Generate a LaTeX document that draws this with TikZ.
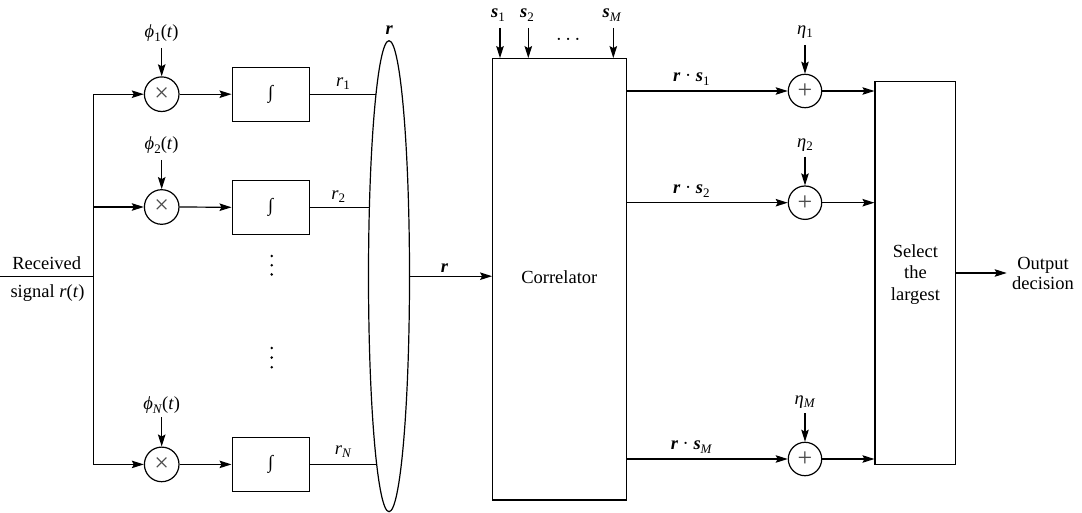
\documentclass[tikz,border=0pt]{standalone}
\usepackage{fontspec}
\setmainfont{Liberation Serif}
\usetikzlibrary{arrows.meta,shapes.geometric}
\newcommand\lsub[1]{\raisebox{-0.42ex}{\fontsize{13}{13}\selectfont #1}}
\newcommand\bi[1]{\textbf{\textit{#1}}}
\begin{document}
\begin{tikzpicture}[x=1pt,y=-1pt,
  line width=1.2pt,
  every node/.style={font=\fontsize{18.5}{21.5}\selectfont},
  arr/.style={-{Stealth[length=12pt,width=7.5pt,inset=2pt]}},
  mult/.style={draw,circle,minimum size=34.6pt,inner sep=0pt},
  adder/.style={draw,circle,minimum size=33.4pt,inner sep=0pt},
  intbox/.style={draw,rectangle,minimum width=77pt,minimum height=54pt,inner sep=0pt},
  lbl/.style={inner sep=1pt},
  sym/.style={text=black!70,inner sep=0pt,font=\fontsize{26}{26}\selectfont},
  vdot/.style={fill=black,circle,inner sep=0pt,minimum size=2.8pt}
]
\useasboundingbox (0,0) rectangle (1082,513);

% input
\coordinate (in) at (0,276.7);
\coordinate (split) at (93.3,276.7);
\node[lbl] (rec) at (46.7,263) {Received};
\node[lbl] (sig) at (47.5,293) {signal \textit{r}(\textit{t})};

% multipliers
\node[mult] (m1) at (161.7,94.2) {};
\node[mult] (m2) at (161.7,207) {};
\node[mult] (mN) at (161.7,464.4) {};
\node[sym] (m1s) at (m1) {×};
\node[sym] (m2s) at (m2) {×};
\node[sym] (mNs) at (mN) {×};

\node[lbl] (p1) at (161.7,33.3) {\textit{ϕ}\lsub{1}(\textit{t})};
\node[lbl] (p2) at (161.7,145) {\textit{ϕ}\lsub{2}(\textit{t})};
\node[lbl] (pN) at (161.7,405) {\textit{ϕ}\lsub{\textit{N}}(\textit{t})};
\coordinate (p1a) at (161.7,48);
\coordinate (p2a) at (161.7,160);
\coordinate (pNa) at (161.7,417);

% integrators
\node[intbox] (i1) at (270.6,94.2) {∫};
\node[intbox] (i2) at (270.6,207.3) {∫};
\node[intbox] (iN) at (270.6,464.4) {∫};

% vertical dots
\node[vdot] (d1a) at (271.7,256) {};
\node[vdot] (d1b) at (271.7,265.2) {};
\node[vdot] (d1c) at (271.7,274.4) {};
\node[vdot] (d2a) at (271.7,348) {};
\node[vdot] (d2b) at (271.7,357.6) {};
\node[vdot] (d2c) at (271.7,367.2) {};

% ellipse (vector r)
\node[draw,ellipse,minimum width=41pt,minimum height=471pt,inner sep=0pt] (bus) at (389,276.2) {};
\node[lbl] (rtop) at (389.3,30) {\bi{r}};
\coordinate (e1) at (376.1,94.2);
\coordinate (e2) at (369.4,207.3);
\coordinate (eN) at (376.7,464.4);

% correlator
\node[draw,rectangle,minimum width=134pt,minimum height=441.3pt,inner sep=0pt] (corr) at (559.7,279.35) {};
\node[lbl] (corrtxt) at (559.3,277.3) {Correlator};
\node[lbl] (s1) at (498,15) {\bi{s}\lsub{1}};
\node[lbl] (s2) at (527,15) {\bi{s}\lsub{2}};
\node[lbl] (sM) at (612,15) {\bi{s}\lsub{\textit{M}}};
\node[lbl] (sdots) at (568.3,42) {·\,·\,·};
\coordinate (s1a) at (500,28);
\coordinate (s2a) at (528.3,28);
\coordinate (sMa) at (613.3,28);

% adders
\node[adder] (a1) at (805,91) {};
\node[adder] (a2) at (805,202.7) {};
\node[adder] (aM) at (805,459) {};
\node[sym] (a1s) at (a1) {+};
\node[sym] (a2s) at (a2) {+};
\node[sym] (aMs) at (aM) {+};
\node[lbl] (n1) at (805,31.7) {\textit{η}\lsub{1}};
\node[lbl] (n2) at (805,145) {\textit{η}\lsub{2}};
\node[lbl] (nM) at (805,401.7) {\textit{η}\lsub{\textit{M}}};
\coordinate (n1a) at (805,45);
\coordinate (n2a) at (805,156.7);
\coordinate (nMa) at (805,413);

% select box
\node[draw,rectangle,minimum width=80.7pt,minimum height=382.6pt,inner sep=0pt] (sel) at (915.4,273) {};
\node[lbl,align=center] (seltxt) at (915.4,274.5) {Select\\the\\largest};
\coordinate (outa) at (1006.7,273);
\node[lbl,align=center,font=\fontsize{18.5}{20}\selectfont] (out) at (1043,273.3) {Output\\decision};

% ---- connectors ----
\draw (in) -- (split);
\draw (split |- m1) -- (split |- mN);
\draw[arr] (split |- m1) -- (m1.west);
\draw[arr] (split |- m2) -- (m2.west);
\draw[arr] (split |- mN) -- (mN.west);
\draw[arr] (p1a) -- (m1.north);
\draw[arr] (p2a) -- (m2.north);
\draw[arr] (pNa) -- (mN.north);
\draw[arr] (m1.east) -- (i1.west);
\draw[arr] (m2.east) -- (i2.west);
\draw[arr] (mN.east) -- (iN.west);

\draw (i1.east) -- node[above=3pt,lbl] (lr1) {\textit{r}\lsub{1}} (e1);
\draw (i2.east) -- node[above=3pt,lbl,pos=0.48] (lr2) {\textit{r}\lsub{2}} (e2);
\draw (iN.east) -- node[above=5pt,lbl] (lrN) {\textit{r}\lsub{\textit{N}}} (eN);

\draw[arr] (bus.east) -- node[above=2pt,lbl,pos=0.42] (lr) {\bi{r}} (bus.east -| corr.west);

\draw[arr] (s1a) -- (s1a |- corr.north);
\draw[arr] (s2a) -- (s2a |- corr.north);
\draw[arr] (sMa) -- (sMa |- corr.north);

\draw[arr] (a1 -| corr.east) -- node[above=4pt,lbl,pos=0.4] (l1) {\bi{r} · \bi{s}\lsub{1}} (a1.west);
\draw[arr] (a2 -| corr.east) -- node[above=4pt,lbl,pos=0.4] (l2) {\bi{r} · \bi{s}\lsub{2}} (a2.west);
\draw[arr] (aM -| corr.east) -- node[above=4pt,lbl,pos=0.4] (lM) {\bi{r} · \bi{s}\lsub{\textit{M}}} (aM.west);

\draw[arr] (n1a) -- (a1.north);
\draw[arr] (n2a) -- (a2.north);
\draw[arr] (nMa) -- (aM.north);

\draw[arr] (a1.east) -- (a1 -| sel.west);
\draw[arr] (a2.east) -- (a2 -| sel.west);
\draw[arr] (aM.east) -- (aM -| sel.west);

\draw[arr] (sel.east |- outa) -- (outa);
\end{tikzpicture}
\end{document}
